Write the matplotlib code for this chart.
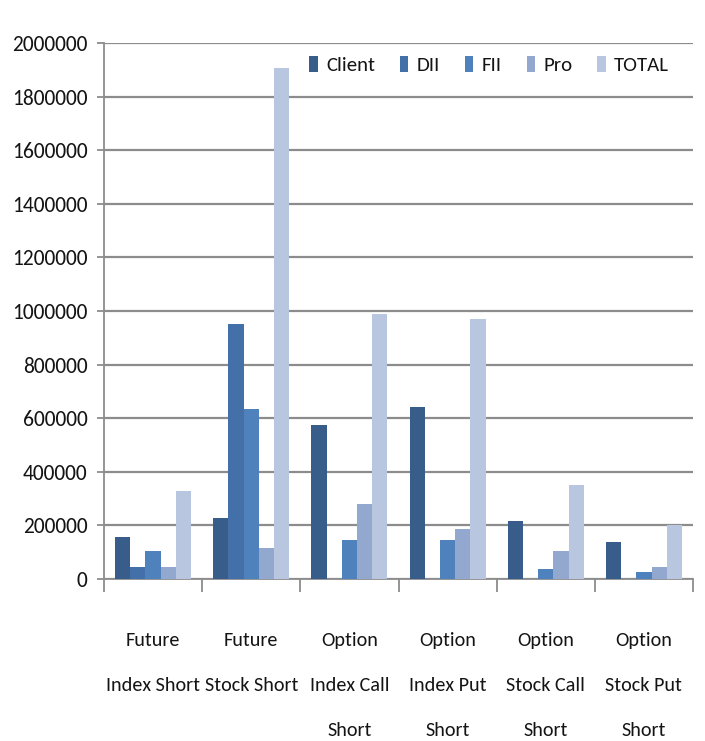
import numpy as np
import matplotlib.pyplot as plt
from matplotlib.ticker import StrMethodFormatter

# short positions by participant type
categories = ['Future\nIndex Short', 'Future\nStock Short', 'Option\nIndex Call\nShort',
              'Option\nIndex Put\nShort', 'Option\nStock Call\nShort', 'Option\nStock Put\nShort']
client = [157000, 228000, 575000, 642000, 217000, 138000]
dii    = [45000, 950000, 0, 0, 0, 0]
fii    = [105000, 634000, 146000, 146000, 37000, 26000]
pro    = [45000, 116000, 280000, 187000, 105000, 45000]
total  = [328000, 1905000, 988000, 970000, 350000, 200000]

series = [('Client', client, '#385D8A'),
          ('DII', dii, '#4470A9'),
          ('FII', fii, '#4F81BD'),
          ('Pro', pro, '#93A8CF'),
          ('TOTAL', total, '#B9C6E0')]

plt.rcParams['font.family'] = ['Carlito', 'DejaVu Sans']
plt.rcParams['text.color'] = '#141414'

fig = plt.figure(figsize=(7.05, 7.41), dpi=100)
ax = fig.add_axes([0.1475, 0.2186, 0.8355, 0.7234])

x = np.arange(len(categories))
w = 0.155
for i, (name, vals, col) in enumerate(series):
    ax.bar(x + (i - 2) * w, vals, w, color=col, label=name, zorder=3)

ax.set_xlim(-0.5, 5.5)
ax.set_ylim(0, 2000000)
ax.set_yticks(np.arange(0, 2000001, 200000))
ax.yaxis.set_major_formatter(StrMethodFormatter('{x:.0f}'))
ax.yaxis.grid(True, color='#8C8C8C', linewidth=1.6, zorder=0)
ax.set_axisbelow(True)

ax.set_xticks(x)
ax.set_xticklabels(categories, fontsize=14.5, linespacing=3.0)
ax.set_xticks(np.arange(-0.5, 6, 1), minor=True)
ax.tick_params(axis='x', which='major', length=0, pad=38, labelcolor='#141414')
ax.tick_params(axis='x', which='minor', length=9, width=1.3, color='#8C8C8C')
ax.tick_params(axis='y', length=5, width=1.3, color='#8C8C8C', labelsize=15.5, pad=7,
               labelcolor='#141414')

for s in ['top', 'right']:
    ax.spines[s].set_visible(False)
for s in ['left', 'bottom']:
    ax.spines[s].set_color('#8C8C8C')
    ax.spines[s].set_linewidth(1.3)

ax.legend(loc='center', bbox_to_anchor=(0.654, 0.959), ncol=5, frameon=False,
          fontsize=15, handlelength=0.4, handleheight=0.85, handletextpad=0.4,
          columnspacing=1.2)

fig.savefig('out.png')
